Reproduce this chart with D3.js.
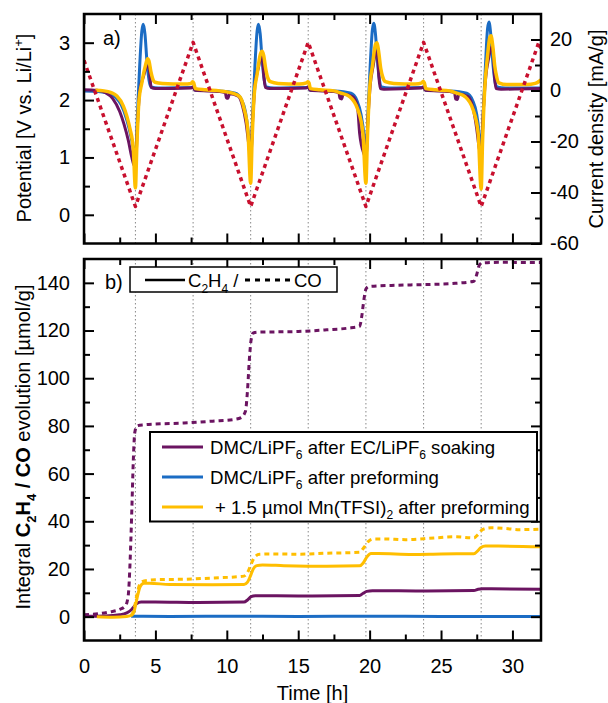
<!DOCTYPE html>
<html>
<head>
<meta charset="utf-8" />
<title>Potential and gas evolution</title>
<script src="https://d3js.org/d3.v7.min.js"></script>
<style>
  body { margin: 0; background: #fff; }
  svg { font-family: "Liberation Sans", Arial, sans-serif; background: #fff; }
</style>
</head>
<body>
<svg width="608" height="703"></svg>
<script>
// ---- data ----
const cycleMarks = [3.6, 7.64, 11.67, 15.7, 19.74, 23.78, 27.81];

const timeMajor = [0, 5, 10, 15, 20, 25, 30];
const timeMinor = [2.5, 7.5, 12.5, 17.5, 22.5, 27.5];
const potMajor = [0, 1, 2, 3];
const potMinor = [0.5, 1.5, 2.5];
const curMajor = [-60, -40, -20, 0, 20];
const curMinor = [-50, -30, -10, 10];
const gasMajor = [0, 20, 40, 60, 80, 100, 120, 140];
const gasMinor = [10, 30, 50, 70, 90, 110, 130];

// potential [V] vs time [h]
const potBlue = [[0,2.16],[1.0,2.15],[1.7,2.12],[2.2,2.05],[2.6,1.92],[3.0,1.65],[3.3,1.35],[3.5,1.1],[3.6,0.98],[3.75,1.8],[3.9,2.6],[4.05,3.2],[4.15,3.32],[4.27,3.15],[4.4,2.7],[4.55,2.35],[4.7,2.23],[5.2,2.21],[7.5,2.22],[7.64,2.22],[7.8,2.17],[9.5,2.16],[10.6,2.12],[11.0,2.02],[11.3,1.8],[11.5,1.45],[11.67,1.0],[11.82,1.8],[11.97,2.6],[12.12,3.2],[12.22,3.32],[12.34,3.15],[12.47,2.7],[12.62,2.35],[12.77,2.23],[13.3,2.21],[15.55,2.22],[15.7,2.22],[15.86,2.17],[17.5,2.16],[18.7,2.12],[19.1,2.0],[19.4,1.75],[19.6,1.4],[19.74,0.98],[19.89,1.8],[20.04,2.6],[20.19,3.22],[20.29,3.34],[20.41,3.15],[20.54,2.7],[20.69,2.35],[20.84,2.23],[21.4,2.21],[23.63,2.22],[23.78,2.22],[23.94,2.17],[25.6,2.16],[26.8,2.12],[27.2,2.0],[27.5,1.75],[27.68,1.4],[27.81,1.0],[27.96,1.8],[28.11,2.6],[28.26,3.25],[28.36,3.36],[28.48,3.15],[28.61,2.7],[28.76,2.35],[28.91,2.23],[29.5,2.21],[32,2.21]];
const potPurple = [[0,2.18],[0.9,2.17],[1.5,2.13],[2.0,2.03],[2.5,1.8],[2.8,1.58],[3.1,1.3],[3.35,1.0],[3.5,0.87],[3.6,0.85],[3.75,1.6],[3.9,2.15],[4.15,2.4],[4.4,2.58],[4.55,2.6],[4.62,2.4],[4.7,2.22],[5.0,2.2],[7.5,2.21],[7.64,2.23],[7.78,2.17],[9.5,2.15],[9.9,2.13],[9.97,2.04],[10.08,2.03],[10.18,2.11],[10.8,2.07],[11.1,1.9],[11.35,1.6],[11.55,1.2],[11.67,0.98],[11.82,1.7],[11.97,2.25],[12.2,2.55],[12.42,2.75],[12.5,2.72],[12.6,2.4],[12.7,2.22],[13.0,2.2],[15.55,2.21],[15.7,2.23],[15.84,2.17],[17.5,2.15],[17.85,2.13],[17.92,2.03],[18.04,2.02],[18.14,2.1],[18.8,2.06],[19.15,1.88],[19.3,1.42],[19.62,1.05],[19.74,0.98],[19.89,1.7],[20.04,2.25],[20.25,2.6],[20.45,2.85],[20.55,2.8],[20.65,2.4],[20.75,2.2],[21.0,2.19],[23.63,2.21],[23.78,2.23],[23.92,2.17],[25.6,2.15],[25.95,2.13],[26.02,2.02],[26.14,2.01],[26.24,2.1],[26.9,2.06],[27.25,1.85],[27.5,1.5],[27.68,1.15],[27.81,1.05],[27.96,1.8],[28.11,2.35],[28.35,2.75],[28.55,2.93],[28.65,2.85],[28.75,2.4],[28.85,2.2],[29.2,2.19],[32,2.2]];
const potYellow = [[0.8,2.17],[1.4,2.16],[1.9,2.13],[2.3,2.07],[2.75,1.9],[3.0,1.72],[3.22,1.5],[3.45,1.15],[3.6,0.47],[3.7,1.2],[3.85,2.0],[4.05,2.3],[4.3,2.6],[4.45,2.72],[4.55,2.68],[4.68,2.5],[4.8,2.38],[4.97,2.31],[5.5,2.29],[7.0,2.28],[7.5,2.29],[7.6,2.32],[7.68,2.3],[7.8,2.2],[8.5,2.18],[9.5,2.16],[10.4,2.12],[10.9,2.06],[11.2,1.86],[11.48,1.45],[11.67,0.55],[11.77,1.3],[11.92,2.1],[12.12,2.45],[12.35,2.8],[12.47,2.85],[12.58,2.78],[12.72,2.55],[12.85,2.4],[13.05,2.32],[13.6,2.29],[15.1,2.28],[15.58,2.3],[15.68,2.32],[15.75,2.3],[15.86,2.2],[16.5,2.18],[17.5,2.16],[18.0,2.12],[18.6,2.06],[19.18,1.83],[19.53,1.42],[19.74,0.55],[19.84,1.3],[19.99,2.15],[20.2,2.6],[20.42,2.98],[20.52,3.0],[20.63,2.85],[20.78,2.55],[20.92,2.4],[21.1,2.32],[21.7,2.29],[23.2,2.28],[23.66,2.3],[23.76,2.33],[23.83,2.3],[23.94,2.2],[24.6,2.18],[25.6,2.16],[26.1,2.12],[26.68,2.06],[27.25,1.83],[27.6,1.42],[27.81,0.45],[27.91,1.3],[28.06,2.2],[28.25,2.75],[28.42,3.1],[28.5,3.12],[28.62,2.95],[28.76,2.6],[28.9,2.4],[29.05,2.3],[29.6,2.27],[31.0,2.27],[31.6,2.29],[32,2.35]];

// current density [mA/g] vs time [h]
const current = [[0,11.8],[3.6,-45.5],[7.64,18.9],[11.67,-45.5],[15.7,18.9],[19.74,-45.5],[23.78,18.9],[27.81,-45.5],[31.85,18.9],[32,16.5]];

// integral gas evolution [umol/g] vs time [h]
const c2h4Purple = [[0,0.2],[1.5,0.3],[2.5,0.8],[3.0,1.6],[3.3,2.8],[3.5,4.2],[3.7,5.5],[4.0,6.1],[5,6.1],[8,5.9],[11.2,6.1],[11.45,7],[11.7,8.4],[12.0,8.8],[15,8.7],[19.3,8.9],[19.55,9.8],[19.8,10.6],[20.2,10.9],[24,10.8],[27.3,11.0],[27.6,11.5],[27.9,11.7],[32,11.5]];
const c2h4Blue = [[3.3,0.2],[6,0.1],[10,0.2],[15,0.1],[20,0.2],[25,0.1],[32,0.1]];
const c2h4Yellow = [[0.9,0],[2.0,-0.2],[3.0,0.1],[3.35,0.6],[3.5,2],[3.65,6],[3.8,10],[3.95,12.8],[4.2,14],[4.6,14],[6,13.5],[9,13.4],[11.2,13.5],[11.45,14.5],[11.65,17],[11.85,20],[12.1,21.4],[12.5,21.7],[14,21.4],[17,21.1],[19.3,21.3],[19.55,22.5],[19.8,25],[20.1,26.5],[20.6,26.5],[23,26.1],[25,26.3],[27.3,26.4],[27.55,27.5],[27.8,29],[28.1,29.6],[29,29.6],[32,29.3]];
const coPurple = [[0,0.8],[1.0,1.2],[1.8,2.0],[2.5,3.0],[2.9,4.5],[3.1,9],[3.22,22],[3.35,45],[3.45,65],[3.55,77],[3.7,80],[4.2,80.5],[5,80.8],[7,81.2],[9,82],[10.5,82.7],[11.0,83.5],[11.3,86],[11.45,95],[11.58,108],[11.7,116],[11.85,119],[12.2,119.3],[13,119.4],[15,119.6],[17,120.3],[18.5,121],[19.3,121.8],[19.45,126],[19.6,133],[19.75,137.5],[19.95,138.5],[22,139],[24,139.3],[26,139.8],[27.3,140.7],[27.5,143.5],[27.65,147],[27.85,148.3],[29,148.6],[32,148.5]];
const coYellow = [[3.3,0.5],[3.5,3],[3.7,9],[3.9,13.5],[4.2,15],[5,15.5],[7,15.7],[9,16.2],[11.2,17],[11.45,18.5],[11.7,22],[11.95,25],[12.3,26.2],[13,26.3],[15,26.2],[17,26.6],[19.3,27],[19.6,29],[19.9,31.5],[20.3,32.6],[21,32.6],[22.5,32.3],[24.5,33],[26,33.5],[27.3,33],[27.6,34.5],[27.9,36.5],[28.5,37.3],[29.5,37],[30.5,36.5],[32,36.7]];

const PURPLE = "#6b1461", BLUE = "#1b6cc4", YELLOW = "#ffbe00", RED = "#c8102e";

// ---- layout ----
const svg = d3.select("svg");
const x = d3.scaleLinear().domain([0, 32]).range([84, 541]);
const yPot = d3.scaleLinear().domain([-0.5, 3.5]).range([243.5, 14]);
const yCur = d3.scaleLinear().domain([-60, 30]).range([243.5, 14]);
const yGas = d3.scaleLinear().domain([-10, 150]).range([640.5, 259]);

const defs = svg.append("defs");
defs.append("clipPath").attr("id", "clipA").append("rect")
  .attr("x", 84).attr("y", 14).attr("width", 457).attr("height", 229.5);
defs.append("clipPath").attr("id", "clipB").append("rect")
  .attr("x", 84).attr("y", 259).attr("width", 457).attr("height", 381.5);

function addAxis(axis, transform, values, size, labels, pad) {
  axis.tickValues(values).tickSize(-size).tickPadding(pad || 0)
    .tickFormat(labels ? d => String(d) : "");
  const g = svg.append("g").attr("transform", transform).call(axis);
  g.select(".domain").remove();
  g.selectAll("line").attr("stroke", "#000").attr("stroke-width", 2);
  g.selectAll("text").attr("font-size", 20).attr("fill", "#000")
    .attr("font-family", "Liberation Sans, Arial, sans-serif");
  return g;
}

function richText(sel, parts, size) {
  let shift = 0;
  parts.forEach(([s, kind]) => {
    const sp = sel.append("tspan").text(s);
    const target = kind.includes("s") ? size * 0.3 : kind.includes("p") ? -size * 0.42 : 0;
    sp.attr("dy", target - shift);
    shift = target;
    if (kind.includes("s") || kind.includes("p")) sp.attr("font-size", size * 0.65);
    if (kind.includes("B")) sp.attr("font-weight", "bold");
  });
}

function cycleLines(y0, y1) {
  svg.append("g").selectAll("line").data(cycleMarks).join("line")
    .attr("x1", d => x(d)).attr("x2", d => x(d))
    .attr("y1", y0).attr("y2", y1)
    .attr("stroke", "#888").attr("stroke-width", 1)
    .attr("stroke-dasharray", "1.5,2.5");
}

function drawLine(data, yScale, clip, color, width, dash, curve) {
  const line = d3.line().x(d => x(d[0])).y(d => yScale(d[1]))
    .curve(curve || d3.curveMonotoneX);
  svg.append("path").datum(data)
    .attr("clip-path", `url(#${clip})`)
    .attr("d", line).attr("fill", "none")
    .attr("stroke", color).attr("stroke-width", width)
    .attr("stroke-linejoin", "round")
    .attr("stroke-dasharray", dash || null);
}

// ---- panel a ----
cycleLines(14, 243.5);
drawLine(potBlue, yPot, "clipA", BLUE, 3);
drawLine(potPurple, yPot, "clipA", PURPLE, 3);
drawLine(potYellow, yPot, "clipA", YELLOW, 3.5);
drawLine(current, yCur, "clipA", RED, 3.5, "4,4", d3.curveLinear);

svg.append("rect").attr("x", 84).attr("y", 14).attr("width", 457).attr("height", 229.5)
  .attr("fill", "none").attr("stroke", "#000").attr("stroke-width", 2.5);
addAxis(d3.axisBottom(x), "translate(0,243.5)", timeMajor, 10, false);
addAxis(d3.axisBottom(x), "translate(0,243.5)", timeMinor, 6, false);
addAxis(d3.axisTop(x), "translate(0,14)", timeMajor, 10, false);
addAxis(d3.axisTop(x), "translate(0,14)", timeMinor, 6, false);
addAxis(d3.axisLeft(yPot), "translate(84,0)", potMajor, 10, true, 14);
addAxis(d3.axisLeft(yPot), "translate(84,0)", potMinor, 6, false);
addAxis(d3.axisRight(yCur), "translate(541,0)", curMajor, 10, true, 9);
addAxis(d3.axisRight(yCur), "translate(541,0)", curMinor, 6, false);

svg.append("text").attr("x", 103).attr("y", 45).attr("font-size", 20).text("a)");

richText(svg.append("text").attr("transform", "translate(31,128) rotate(-90)")
  .attr("text-anchor", "middle").attr("font-size", 20),
  [["Potential [V vs. Li/Li", ""], ["+", "p"], ["]", ""]], 20);
svg.append("text").attr("transform", "translate(603,129) rotate(-90)")
  .attr("text-anchor", "middle").attr("font-size", 20).text("Current density [mA/g]");

// ---- panel b ----
cycleLines(259, 640.5);
drawLine(c2h4Blue, yGas, "clipB", BLUE, 3);
drawLine(c2h4Purple, yGas, "clipB", PURPLE, 3);
drawLine(coPurple, yGas, "clipB", PURPLE, 3, "5,4");
drawLine(c2h4Yellow, yGas, "clipB", YELLOW, 3);
drawLine(coYellow, yGas, "clipB", YELLOW, 3, "5,4");

svg.append("rect").attr("x", 84).attr("y", 259).attr("width", 457).attr("height", 381.5)
  .attr("fill", "none").attr("stroke", "#000").attr("stroke-width", 2.5);
addAxis(d3.axisBottom(x), "translate(0,640.5)", timeMajor, 10, true, 18);
addAxis(d3.axisBottom(x), "translate(0,640.5)", timeMinor, 6, false);
addAxis(d3.axisTop(x), "translate(0,259)", timeMajor, 10, false);
addAxis(d3.axisTop(x), "translate(0,259)", timeMinor, 6, false);
addAxis(d3.axisLeft(yGas), "translate(84,0)", gasMajor, 10, true, 14);
addAxis(d3.axisLeft(yGas), "translate(84,0)", gasMinor, 6, false);
addAxis(d3.axisRight(yGas), "translate(541,0)", gasMajor, 10, false);
addAxis(d3.axisRight(yGas), "translate(541,0)", gasMinor, 6, false);

svg.append("text").attr("x", 105).attr("y", 289).attr("font-size", 20).text("b)");

// style legend
const sl = svg.append("g");
sl.append("rect").attr("x", 130).attr("y", 267).attr("width", 207).attr("height", 25)
  .attr("fill", "#fff").attr("stroke", "#000").attr("stroke-width", 1.5);
sl.append("line").attr("x1", 145).attr("x2", 185).attr("y1", 280).attr("y2", 280)
  .attr("stroke", "#000").attr("stroke-width", 2.5);
richText(sl.append("text").attr("x", 188).attr("y", 287).attr("font-size", 18.5),
  [["C", ""], ["2", "s"], ["H", ""], ["4", "s"], [" /", ""]], 18.5);
sl.append("line").attr("x1", 245).attr("x2", 292).attr("y1", 280).attr("y2", 280)
  .attr("stroke", "#000").attr("stroke-width", 3).attr("stroke-dasharray", "5,5");
sl.append("text").attr("x", 294).attr("y", 287).attr("font-size", 18.5).text("CO");

// series legend
const legendRows = [
  { color: PURPLE, x: 210, parts: [["DMC/LiPF", ""], ["6", "s"], [" after EC/LiPF", ""], ["6", "s"], [" soaking", ""]] },
  { color: BLUE, x: 210, parts: [["DMC/LiPF", ""], ["6", "s"], [" after preforming", ""]] },
  { color: YELLOW, x: 215, parts: [["+ 1.5 µmol Mn(TFSI)", ""], ["2", "s"], [" after preforming", ""]] }
];
const lg = svg.append("g");
lg.append("rect").attr("x", 150).attr("y", 432).attr("width", 387).attr("height", 89.5)
  .attr("fill", "#fff").attr("stroke", "#000").attr("stroke-width", 2);
legendRows.forEach((r, i) => {
  const cy = 447 + i * 30;
  lg.append("line").attr("x1", 162).attr("x2", 203).attr("y1", cy).attr("y2", cy)
    .attr("stroke", r.color).attr("stroke-width", 3);
  richText(lg.append("text").attr("x", r.x).attr("y", cy + 6.5).attr("font-size", 18.6), r.parts, 18.6);
});

richText(svg.append("text").attr("transform", "translate(30,447) rotate(-90)")
  .attr("text-anchor", "middle").attr("font-size", 20),
  [["Integral ", ""], ["C", "B"], ["2", "Bs"], ["H", "B"], ["4", "Bs"], [" / CO", "B"], [" evolution [µmol/g]", ""]], 20);

svg.append("text").attr("x", 312.5).attr("y", 700).attr("text-anchor", "middle")
  .attr("font-size", 20).text("Time [h]");
</script>
</body>
</html>
